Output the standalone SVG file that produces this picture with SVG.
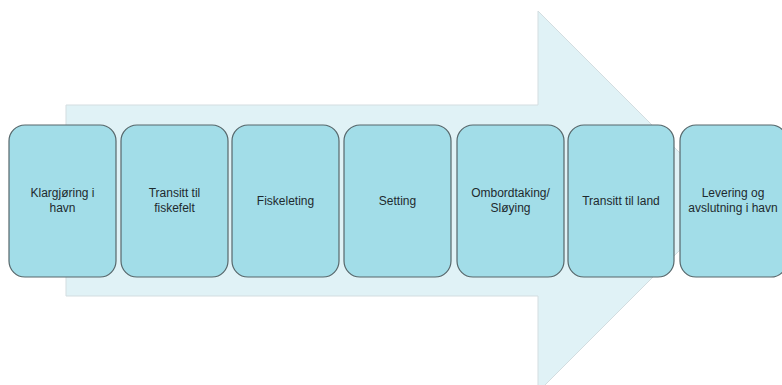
<svg xmlns="http://www.w3.org/2000/svg" width="782" height="385" viewBox="0 0 782 385">
<style>
.box{fill:#A2DDE8;stroke:#56676B;stroke-width:1.2}
.lbl{font-family:"Liberation Sans",Arial,sans-serif;font-size:12px;fill:#1E2A2E;text-anchor:middle}
</style>
<rect width="782" height="385" fill="#FFFFFF"/>
<g id="arrow">
<path d="M66,105 L538,105 L538,11 L728.5,201.5 L538,392 L538,296 L66,296 Z" fill="#E0F2F6" stroke="#D3DDE0" stroke-width="1"/>
</g>
<g id="connectors"></g>
<g id="n1"><rect class="box" x="9" y="125" width="107" height="152" rx="16"/><text class="lbl" x="62.5" y="197">Klargjøring i</text><text class="lbl" x="62.5" y="212">havn</text></g>
<g id="n2"><rect class="box" x="121" y="125" width="107" height="152" rx="16"/><text class="lbl" x="174.5" y="197">Transitt til</text><text class="lbl" x="174.5" y="212">fiskefelt</text></g>
<g id="n3"><rect class="box" x="232" y="125" width="107" height="152" rx="16"/><text class="lbl" x="285.5" y="205">Fiskeleting</text></g>
<g id="n4"><rect class="box" x="344" y="125" width="107" height="152" rx="16"/><text class="lbl" x="397.5" y="205">Setting</text></g>
<g id="n5"><rect class="box" x="457" y="125" width="107" height="152" rx="16"/><text class="lbl" x="510.5" y="197">Ombordtaking/</text><text class="lbl" x="510.5" y="212">Sløying</text></g>
<g id="n6"><rect class="box" x="568" y="125" width="106" height="152" rx="16"/><text class="lbl" x="621" y="205">Transitt til land</text></g>
<g id="n7"><rect class="box" x="680" y="125" width="107" height="152" rx="16"/><text class="lbl" x="733" y="197">Levering og</text><text class="lbl" x="733" y="212">avslutning i havn</text></g>
</svg>
